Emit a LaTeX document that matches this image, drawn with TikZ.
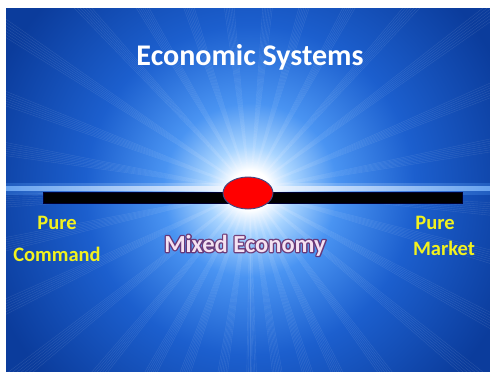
\documentclass[tikz,border=0pt]{standalone}
\usepackage{fontspec}
\setmainfont{Carlito}
\usetikzlibrary{shapes.geometric,calc}

% palette of the slide
\definecolor{edgeblue}{HTML}{0B3C9C}
\definecolor{glowA}{HTML}{A8D4FF}
\definecolor{glowB}{HTML}{4A94F2}
\definecolor{glowC}{HTML}{1C5FCE}
\definecolor{glowD}{HTML}{0B3C9C}
\definecolor{labelyellow}{HTML}{F2F21E}
\definecolor{mixfill}{HTML}{F4E2F2}
\definecolor{mixedge}{HTML}{5A1E55}
\definecolor{ballrim}{HTML}{3C4A86}

% bright burst behind the scale (25bp = circle radius)
\pgfdeclareradialshading{burst}{\pgfpoint{0bp}{0bp}}{%
  color(0bp)=(white); color(1.5bp)=(white); color(3.3bp)=(glowA);
  color(6.6bp)=(glowB); color(12.5bp)=(glowC); color(21bp)=(glowD);
  color(50bp)=(glowD)}

% text stroked only, as a dark rim behind the filled label
\newcommand{\rimstroke}[1]{%
  \special{pdf:code 1 Tr 2.6 w 1 J 1 j 0.42 0.16 0.40 RG}#1\special{pdf:code 0 Tr 0.4 w 0 J 0 j}}

\tikzset{
  ray/.style={white, line width=0.4pt, opacity=0.11},
  title/.style={text=white, font=\bfseries\fontsize{30}{36}\selectfont, anchor=base},
  pole/.style={text=labelyellow, font=\bfseries\fontsize{20.5}{24}\selectfont, anchor=base},
  mixtext/.style={text=mixfill, font=\bfseries\fontsize{24.5}{29}\selectfont, anchor=base},
  scalebar/.style={rectangle, fill=black, draw=black!80!blue, line width=0.4pt,
    minimum width=419pt, minimum height=10.5pt, inner sep=0pt},
  ball/.style={ellipse, fill=red, draw=ballrim, line width=0.9pt,
    minimum width=50pt, minimum height=32pt, inner sep=0pt}
}

\begin{document}
\begin{tikzpicture}[x=1pt, y=-1pt]
  \useasboundingbox (0,0) rectangle (490,372);
  \fill[white] (0,0) rectangle (490,372);

  % slide background
  \begin{scope}
    \clip (6,8) rectangle (490,371);
    \fill[edgeblue] (6,8) rectangle (490,371);
    \shade[shading=burst] (250,190) circle (330);
    \coordinate (C) at (250,190);
    % bundles of fine rays
    \foreach \a in {3,14,27,38,52,63,71,80,88,97,108,117,128,140,153,166,176,
                    188,199,212,226,238,250,262,274,285,297,310,322,336,348}{
      \foreach \k in {0,...,6}{
        \draw[ray] (C) -- ++(\a+\k*0.5:600);
      }
    }
    % horizontal glow line
    \shade[left color=glowB!70!white, right color=glowB!70!white, middle color=white,
           opacity=0.9] (6,186.5) rectangle (490,190);
    \shade[left color=glowB, right color=glowB, middle color=white, opacity=0.3]
      (6,183) rectangle (490,194);
  \end{scope}

  % title
  \node[title] (title) at (250,65) {Economic Systems};

  % the scale
  \node[scalebar] (bar) at (252.5,197.5) {};
  \node[ball] (mix) at (248,193) {};

  % end labels
  \node[pole] (pc1) at (57,229) {Pure};
  \node[pole] (pc2) at (57,261) {Command};
  \node[pole] (pm1) at (435,229) {Pure};
  \node[pole] (pm2) at (444,255) {Market};

  % middle label: dark rim, then the light fill on top
  \node[mixtext, opacity=0.85] (mixrim) at (245,252) {\rimstroke{Mixed Economy}};
  \node[mixtext] (mixlabel) at (245,252) {Mixed Economy};
\end{tikzpicture}
\end{document}
